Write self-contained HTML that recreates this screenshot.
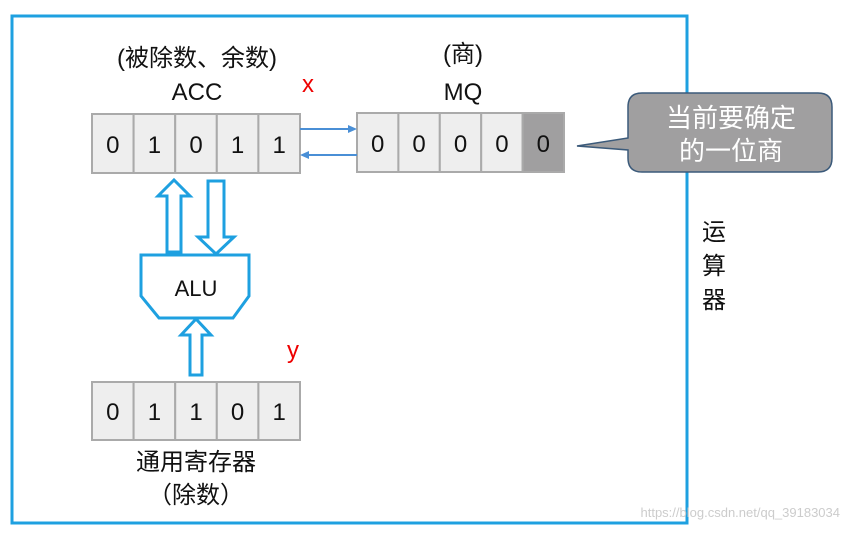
<!DOCTYPE html>
<html><head><meta charset="utf-8"><style>
body{margin:0;background:#fff;}
text{font-family:"Liberation Sans","Noto Sans CJK SC",sans-serif;}
</style></head><body>
<svg width="853" height="529" viewBox="0 0 853 529" xmlns="http://www.w3.org/2000/svg">
<rect x="12" y="16" width="675" height="507" fill="none" stroke="#1ea0e0" stroke-width="3"/>
<g font-size="24" fill="#111" text-anchor="middle">
<text x="197" y="66">(被除数、余数)</text>
<text x="197" y="100">ACC</text>
<text x="463" y="62">(商)</text>
<text x="463" y="100">MQ</text>
</g>
<text x="302" y="92" font-size="24" fill="#e00" font-family="Liberation Serif,serif">x</text>
<text x="287" y="358" font-size="24" fill="#e00" font-family="Liberation Serif,serif">y</text>
<g stroke="#aaa" stroke-width="2" fill="#eee">
<rect x="92" y="114" width="41.6" height="59"/><rect x="133.6" y="114" width="41.6" height="59"/><rect x="175.2" y="114" width="41.6" height="59"/><rect x="216.8" y="114" width="41.6" height="59"/><rect x="258.4" y="114" width="41.6" height="59"/>
<rect x="357" y="113" width="41.4" height="59"/><rect x="398.4" y="113" width="41.4" height="59"/><rect x="439.8" y="113" width="41.4" height="59"/><rect x="481.2" y="113" width="41.4" height="59"/><rect x="522.6" y="113" width="41.4" height="59" fill="#a09fa0"/>
<rect x="92" y="382" width="41.6" height="58"/><rect x="133.6" y="382" width="41.6" height="58"/><rect x="175.2" y="382" width="41.6" height="58"/><rect x="216.8" y="382" width="41.6" height="58"/><rect x="258.4" y="382" width="41.6" height="58"/>
</g>
<g font-size="24" fill="#111" text-anchor="middle">
<text x="112.8" y="153">0</text><text x="154.4" y="153">1</text><text x="196" y="153">0</text><text x="237.6" y="153">1</text><text x="279.2" y="153">1</text>
<text x="377.7" y="152">0</text><text x="419.1" y="152">0</text><text x="460.5" y="152">0</text><text x="501.9" y="152">0</text><text x="543.3" y="152">0</text>
<text x="112.8" y="420">0</text><text x="154.4" y="420">1</text><text x="196" y="420">1</text><text x="237.6" y="420">0</text><text x="279.2" y="420">1</text>
<text x="196" y="470">通用寄存器</text><text x="196" y="503">（除数）</text>
<text x="714" y="240">运</text><text x="714" y="274">算</text><text x="714" y="308">器</text>
</g>
<g stroke="#4a8fd6" stroke-width="2" fill="#4a8fd6">
<line x1="300" y1="129" x2="350" y2="129"/><polygon points="357,129 348,125 348,133" stroke="none"/>
<line x1="357" y1="155" x2="307" y2="155"/><polygon points="300,155 309,151 309,159" stroke="none"/>
</g>
<g stroke="#1ea0e0" stroke-width="3" fill="#fff">
<polygon points="167,252 181,252 181,196 190,196 174,180 158,196 167,196"/>
<polygon points="208,181 224,181 224,237 234,237 216,254 198,237 208,237"/>
<polygon points="190,375 202,375 202,335 211,335 196,319 181,335 190,335"/>
<polygon points="141,255 249,255 249,296 233,318 159,318 141,296"/>
</g>
<text x="196" y="296" font-size="22" fill="#111" text-anchor="middle">ALU</text>
<path d="M642,93 H818 Q832,93 832,107 V158 Q832,172 818,172 H642 Q628,172 628,158 V150 L577,146 L628,138 V107 Q628,93 642,93 Z" fill="#a09fa0" stroke="#3b5a7a" stroke-width="1.5"/>
<g font-size="26" fill="#fff" text-anchor="middle">
<text x="731" y="127">当前要确定</text><text x="731" y="160">的一位商</text>
</g>
<text x="840" y="517" font-size="13" fill="#ccc" text-anchor="end">https://blog.csdn.net/qq_39183034</text>
</svg>
</body></html>
